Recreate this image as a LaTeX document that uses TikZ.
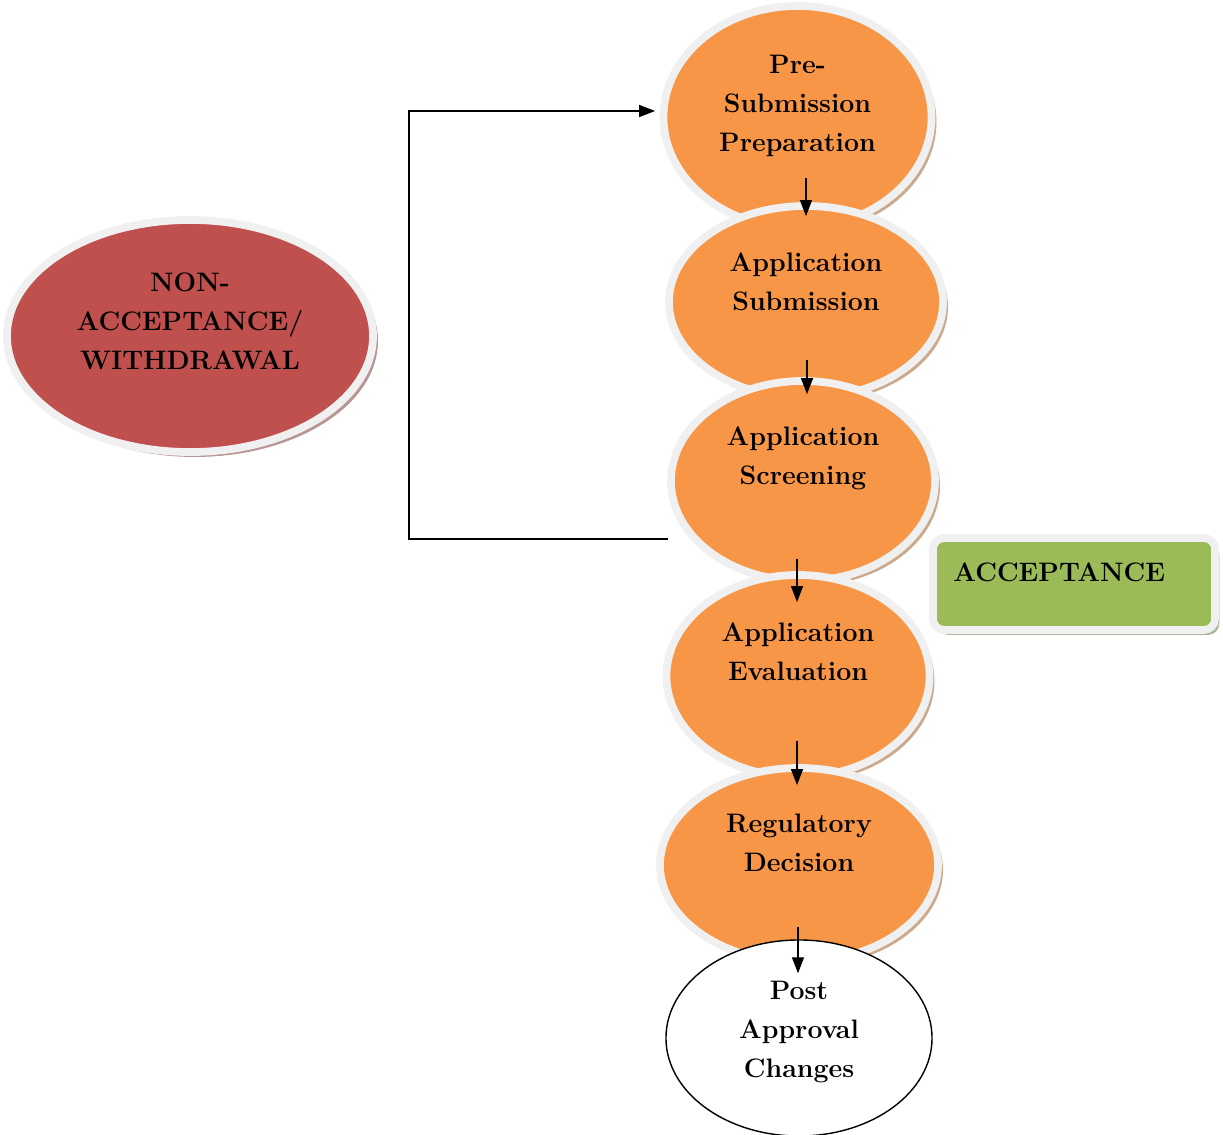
\documentclass[tikz,border=0pt]{standalone}
\usepackage{amsmath,amssymb}
\usepackage{xcolor}
\usepackage{tikz}
\usetikzlibrary{shapes.geometric,shadows,arrows.meta}

\definecolor{stepfill}{HTML}{F79646}
\definecolor{stepshade}{HTML}{CDA98C}
\definecolor{rejfill}{HTML}{C0504D}
\definecolor{rejshade}{HTML}{B89494}
\definecolor{accfill}{HTML}{9BBB59}
\definecolor{accshade}{HTML}{ABB59D}
\definecolor{ring}{HTML}{F0F0F0}

\tikzset{
  txt/.style={font=\fontsize{19}{27.7}\selectfont\bfseries,align=center,inner sep=0pt},
  stage/.style={ellipse,fill=stepfill,draw=ring,line width=5.5pt,
    drop shadow={shadow xshift=3.5pt,shadow yshift=-3.5pt,fill=stepshade,opacity=1}},
  flow/.style={line width=1pt,-{Triangle[length=0.4cm,width=0.3cm]}}
}

\begin{document}
\begin{tikzpicture}[x=0.025cm,y=-0.025cm]
  \useasboundingbox (0,0) rectangle (1223,1135);

  \node[ellipse,fill=rejfill,draw=ring,line width=5.5pt,
    drop shadow={shadow xshift=3.5pt,shadow yshift=-3.5pt,fill=rejshade,opacity=1},
    minimum width=9.15cm,minimum height=5.8cm,
    label={[txt,shift={(0,-15)}]center:{NON-\\ACCEPTANCE/\\WITHDRAWAL}}]
    (nonacc) at (190,336) {};

  \node[stage,minimum width=6.7cm,minimum height=5.55cm,
    label={[txt,shift={(0,-11)}]center:{Pre-\\Submission\\Preparation}}]
    (pre) at (797.5,117) {};
  \node[stage,minimum width=6.85cm,minimum height=4.8cm,
    label={[txt,shift={(0,-20.5)}]center:{Application\\Submission}}]
    (sub) at (806,302) {};
  \node[stage,minimum width=6.6cm,minimum height=5cm,
    label={[txt,shift={(0,-22.5)}]center:{Application\\Screening}}]
    (scr) at (803,481) {};
  \node[stage,minimum width=6.575cm,minimum height=5.05cm,
    label={[txt,shift={(0,-24.5)}]center:{Application\\Evaluation}}]
    (eva) at (798,676) {};
  \node[stage,minimum width=6.95cm,minimum height=4.85cm,
    label={[txt,shift={(0,-22.5)}]center:{Regulatory\\Decision}}]
    (dec) at (799,865) {};
  \node[ellipse,fill=white,draw=black,line width=1pt,
    minimum width=6.65cm,minimum height=4.9cm,
    label={[txt,shift={(0,-6)}]center:{Post\\Approval\\Changes}}]
    (post) at (799,1038) {};

  \node[rectangle,rounded corners=8pt,fill=accfill,draw=ring,line width=5.5pt,
    drop shadow={shadow xshift=3pt,shadow yshift=-3.5pt,fill=accshade,opacity=1},
    minimum width=7.05cm,minimum height=2.3cm,
    label={[txt,anchor=west,shift={(24,-12)}]west:ACCEPTANCE}]
    (acc) at (1074,584) {};

  \draw[flow] ([shift={(0,-24)}]sub.north) -- ([shift={(0,14)}]sub.north);
  \draw[flow] ([shift={(4,-17)}]scr.north) -- ([shift={(4,17)}]scr.north);
  \draw[flow] ([shift={(-1,-12.5)}]eva.north) -- ([shift={(-1,31)}]eva.north);
  \draw[flow] ([shift={(-2,-23.5)}]dec.north) -- ([shift={(-2,21)}]dec.north);
  \draw[flow] ([shift={(-1,-12)}]post.north) -- ([shift={(-1,34)}]post.north);

  \draw[flow] ([shift={(1,58)}]scr.west) -- ++(-259,0) |- ([shift={(-4.5,-6)}]pre.west);
\end{tikzpicture}
\end{document}
